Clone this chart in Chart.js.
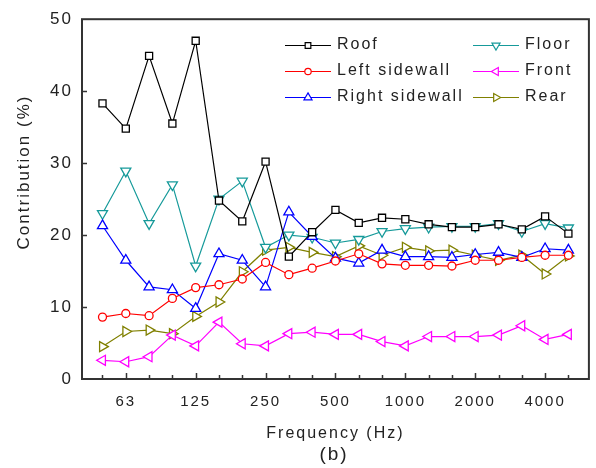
<!DOCTYPE html>
<html>
<head>
<meta charset="utf-8">
<script src="https://cdn.jsdelivr.net/npm/chart.js@4.4.1/dist/chart.umd.min.js"></script>
<style>
  body { margin: 0; background: #fff; }
  #wrap { width: 596px; height: 468px; }
</style>
</head>
<body>
<div id="wrap"><canvas id="grafica" width="596" height="468"></canvas></div>
<script>
// 1/3 octave bands (Hz)
const bandas = ['50', '63', '80', '100', '125', '160', '200', '250', '315', '400', '500',
	'630', '800', '1000', '1250', '1600', '2000', '2500', '3150', '4000', '5000'];
const etiquetasOctava = ['63', '125', '250', '500', '1000', '2000', '4000'];

// contribution (%) per panel
const roof = [38.3, 34.8, 44.9, 35.5, 47.0, 24.8, 21.9, 30.2, 17.0, 20.4, 23.5,
	21.7, 22.4, 22.2, 21.5, 21.1, 21.1, 21.5, 20.8, 22.6, 20.2];
const leftSidewall = [8.6, 9.1, 8.8, 11.2, 12.7, 13.1, 13.9, 16.2, 14.5, 15.4, 16.4,
	17.4, 16.0, 15.8, 15.8, 15.7, 16.5, 16.5, 16.9, 17.2, 17.2];
const rightSidewall = [21.3, 16.5, 12.8, 12.4, 9.8, 17.4, 16.5, 12.8, 23.2, 19.8, 16.8,
	16.1, 17.9, 17.0, 17.0, 16.9, 17.3, 17.6, 16.9, 18.1, 17.9];
const floor = [23.0, 28.9, 21.6, 27.0, 15.7, 25.0, 27.5, 18.3, 20.0, 19.7, 18.9,
	19.4, 20.5, 20.9, 21.1, 21.2, 21.2, 21.6, 20.5, 21.6, 21.0];
const front = [2.6, 2.4, 3.1, 6.1, 4.6, 7.9, 4.9, 4.6, 6.3, 6.5, 6.2,
	6.2, 5.2, 4.6, 5.9, 5.9, 5.9, 6.1, 7.4, 5.5, 6.2];
const rear = [4.5, 6.6, 6.8, 6.3, 8.7, 10.7, 14.9, 17.9, 18.3, 17.6, 17.0,
	18.5, 17.2, 18.3, 17.8, 17.9, 17.2, 16.5, 17.2, 14.6, 17.1];

const fuente = '"Liberation Sans", Arial, sans-serif';
const colorTexto = '#222222';

function serie(label, valores, color, estilo, radio, giro) {
	return {
		label: label,
		data: valores.map((v, i) => ({ x: i, y: v })),
		borderColor: color,
		borderWidth: 1.2,
		backgroundColor: '#ffffff',
		pointBackgroundColor: '#ffffff',
		pointBorderColor: color,
		pointBorderWidth: 1.3,
		pointStyle: estilo,
		pointRadius: radio,
		pointRotation: giro,
		tension: 0
	};
}

const datasets = [
	serie('Roof', roof, '#000000', 'rect', 5, 0),
	serie('Left sidewall', leftSidewall, '#ff0000', 'circle', 4, 0),
	serie('Right sidewall', rightSidewall, '#0000ff', 'triangle', 5.8, 0),
	serie('Floor', floor, '#169a9a', 'triangle', 5.8, 180),
	serie('Front', front, '#ff00ff', 'triangle', 5.8, -90),
	serie('Rear', rear, '#808000', 'triangle', 5.8, 90)
];

// frame, inner ticks, legend and titles
const decoracion = {
	id: 'decoracion',
	beforeDraw(chart) {
		chart.ctx.letterSpacing = '2px';
	},
	afterDraw(chart) {
		const ctx = chart.ctx;
		const area = chart.chartArea;
		const sx = chart.scales.x;
		const sy = chart.scales.y;
		ctx.save();
		ctx.strokeStyle = '#333333';
		ctx.lineWidth = 1.5;
		// x ticks pointing inward
		bandas.forEach((b, i) => {
			const px = Math.round(sx.getPixelForValue(i)) + 0.5;
			const largo = etiquetasOctava.includes(b) ? 6 : 4;
			ctx.beginPath();
			ctx.moveTo(px, area.bottom);
			ctx.lineTo(px, area.bottom - largo);
			ctx.stroke();
		});
		for (let v = 10; v < 50; v += 10) {
			const py = Math.round(sy.getPixelForValue(v)) + 0.5;
			ctx.beginPath();
			ctx.moveTo(area.left, py);
			ctx.lineTo(area.left + 5, py);
			ctx.stroke();
		}
		ctx.lineWidth = 2;
		ctx.strokeRect(area.left, area.top, area.right - area.left, area.bottom - area.top);

		// legend, two columns
		ctx.font = '16px ' + fuente;
		ctx.textBaseline = 'middle';
		ctx.textAlign = 'left';
		const colX = [285, 473];
		const filaY = [45, 71, 97];
		chart.data.datasets.forEach((ds, i) => {
			const x0 = colX[Math.floor(i / 3)];
			const y0 = filaY[i % 3];
			ctx.strokeStyle = ds.borderColor;
			ctx.lineWidth = 1.2;
			ctx.beginPath();
			ctx.moveTo(x0, y0 + 0.5);
			ctx.lineTo(x0 + 46, y0 + 0.5);
			ctx.stroke();
			ctx.fillStyle = '#ffffff';
			Chart.helpers.drawPoint(ctx, {
				pointStyle: ds.pointStyle,
				rotation: ds.pointRotation,
				radius: ds.pointRadius * 0.8,
				borderWidth: 1.2
			}, x0 + 23, y0 + 0.5);
			ctx.fillStyle = colorTexto;
			ctx.fillText(ds.label, x0 + 52, y0);
		});

		// axis titles
		ctx.fillStyle = colorTexto;
		ctx.textAlign = 'center';
		ctx.font = '16px ' + fuente;
		ctx.fillText('Frequency (Hz)', (area.left + area.right) / 2, 434);
		ctx.font = '19px ' + fuente;
		ctx.fillText('(b)', 334, 455);
		ctx.save();
		ctx.translate(24, 172);
		ctx.rotate(-Math.PI / 2);
		ctx.font = '17px ' + fuente;
		ctx.fillText('Contribution (%)', 0, 0);
		ctx.restore();
		ctx.restore();
	}
};

new Chart(document.getElementById('grafica'), {
	type: 'line',
	data: { datasets: datasets },
	options: {
		responsive: false,
		devicePixelRatio: 1,
		animation: false,
		layout: { padding: { top: 18, right: 6, left: 0, bottom: 0 } },
		plugins: {
			legend: { display: false },
			tooltip: { enabled: false }
		},
		scales: {
			x: {
				type: 'linear',
				min: -0.88,
				max: 20.88,
				afterFit: (scale) => { scale.height = 89; },
				afterBuildTicks: (scale) => {
					scale.ticks = bandas.map((b, i) => ({ value: i }));
				},
				grid: { display: false, drawTicks: false },
				border: { display: false },
				ticks: {
					autoSkip: false,
					maxRotation: 0,
					padding: 14,
					color: colorTexto,
					font: { family: fuente, size: 15 },
					callback: (valor) => {
						const b = bandas[valor];
						return etiquetasOctava.includes(b) ? b : '';
					}
				}
			},
			y: {
				min: 0,
				max: 50,
				afterFit: (scale) => { scale.width = 82; },
				grid: { display: false, drawTicks: false },
				border: { display: false },
				ticks: {
					stepSize: 10,
					padding: 9,
					color: colorTexto,
					font: { family: fuente, size: 17 }
				}
			}
		}
	},
	plugins: [decoracion]
});
</script>
</body>
</html>
